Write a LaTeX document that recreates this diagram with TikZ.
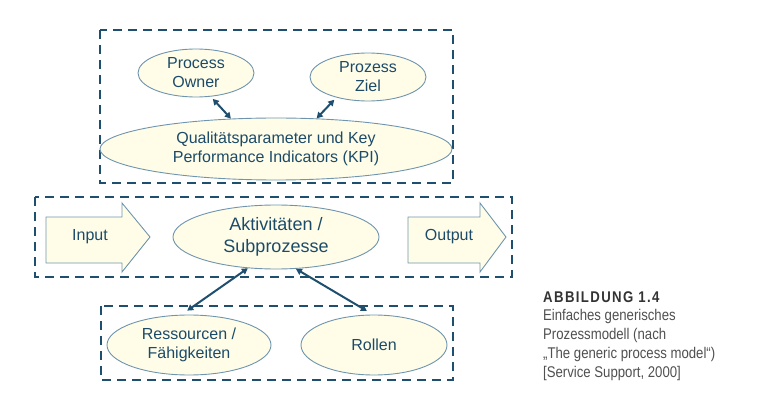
\documentclass[tikz,border=0pt]{standalone}
\usepackage{fontspec}
\setmainfont{Liberation Sans}
\newfontfamily\capfont[FakeStretch=0.85]{Liberation Sans}
\newfontfamily\capbold[FakeStretch=0.85,LetterSpace=9]{Liberation Sans Bold}
\usetikzlibrary{shapes.geometric,arrows.meta}
\definecolor{boxblue}{HTML}{1E4F6E}
\definecolor{txtblue}{HTML}{1C4B69}
\definecolor{edgeblue}{HTML}{6F95AE}
\definecolor{cream}{HTML}{FFFDE8}
\definecolor{capgray}{HTML}{505050}
\tikzset{
  ell/.style={ellipse, draw=edgeblue, line width=0.9pt, fill=cream, inner sep=0pt,
    text=txtblue, align=center, font=\fontsize{16}{19}\selectfont},
  dbox/.style={draw=boxblue, line width=2.6pt, dash pattern=on 9pt off 6pt},
  conn/.style={draw=boxblue, line width=2pt, {Triangle[length=6pt,width=6.5pt]}-{Triangle[length=6pt,width=6.5pt]}},
  bigarrow/.style={draw=edgeblue, line width=0.9pt, fill=cream},
  lbl/.style={text=txtblue, font=\fontsize{16}{19}\selectfont},
  captext/.style={anchor=west, inner sep=0pt, text=capgray, font=\capfont\fontsize{15.5}{18}\selectfont}
}
\begin{document}
\begin{tikzpicture}[x=1pt,y=-1pt]
\useasboundingbox (0,0) rectangle (768,406);
% dashed frames
\draw[dbox] (100,30) rectangle (453,183);
\draw[dbox] (35,197) rectangle (512,277);
\draw[dbox] (101,306) rectangle (453,380);
% top
\node[ell, minimum width=116pt, minimum height=48pt] (po) at (196,73) {Process\\Owner};
\node[ell, minimum width=116pt, minimum height=48pt] (pz) at (368,77) {Prozess\\Ziel};
\node[ell, minimum width=352pt, minimum height=62pt] (kpi) at (276,149) {Qualitätsparameter und Key\\Performance Indicators (KPI)};
\draw[conn, shorten <=3pt] (po.-58) -- (kpi.146);
\draw[conn, shorten <=3pt] (pz.213) -- (kpi.37);
% middle
\draw[bigarrow] (46,217) -- (122,217) -- (122,203) -- (150,237) -- (122,272) -- (122,263) -- (46,263) -- cycle;
\node[lbl] (in) at (90,237) {Input};
\draw[bigarrow] (408,217) -- (480,217) -- (480,203) -- (506,237) -- (480,272) -- (480,263) -- (408,263) -- cycle;
\node[lbl] (out) at (449,237) {Output};
\node[ell, minimum width=206pt, minimum height=64pt, font=\fontsize{18}{22}\selectfont] (akt) at (276,237) {Aktivitäten /\\Subprozesse};
% bottom
\node[ell, minimum width=164pt, minimum height=60pt] (res) at (189,345) {Ressourcen /\\Fähigkeiten};
\node[ell, minimum width=146pt, minimum height=60pt] (rol) at (374,345) {Rollen};
\draw[conn, shorten >=7pt] (akt.228) -- (res.104);
\draw[conn, shorten >=7pt] (akt.-58) -- (rol.92);
% caption
\node[captext, text=black!80, font=\capbold\fontsize{15.5}{18}\selectfont] (c0) at (543,297) {ABBILDUNG 1.4};
\node[captext] (c1) at (543,316) {Einfaches generisches};
\node[captext] (c2) at (543,335) {Prozessmodell (nach};
\node[captext] (c3) at (543,354) {„The generic process model“)};
\node[captext] (c4) at (543,373) {[Service Support, 2000]};
\end{tikzpicture}
\end{document}
